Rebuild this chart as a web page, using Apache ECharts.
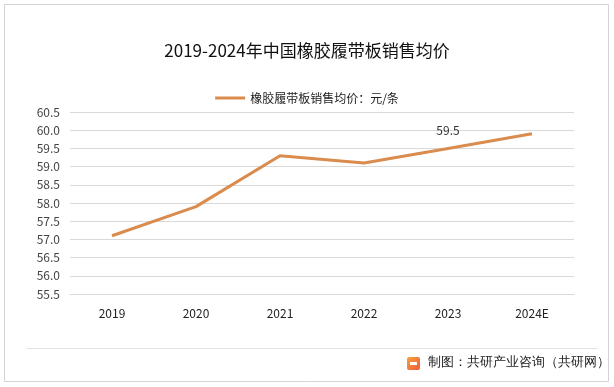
<!DOCTYPE html>
<html><head><meta charset="utf-8">
<script src="https://cdn.jsdelivr.net/npm/echarts@6/dist/echarts.min.js"></script>
<style>html,body{margin:0;padding:0;background:#fff}#c{width:614px;height:387px}</style>
</head><body><div id="c"></div>
<script>
const categories = ['2019','2020','2021','2022','2023','2024E'];
const prices = [57.1, 57.9, 59.3, 59.1, 59.5, 59.9];
const labelledIndex = 4;
const yTicks = {min: 55.5, max: 60.5, interval: 0.5};
const seriesName = '橡胶履带板销售均价：元/条';
const titleText = '2019-2024年中国橡胶履带板销售均价';
const footerText = '制图：共研产业咨询（共研网）';

const font = '"Microsoft YaHei","Noto Sans CJK SC","Noto Sans",sans-serif';
const chart = echarts.init(document.getElementById('c'), null, {renderer:'canvas'});
chart.setOption({
  animation:false,
  backgroundColor:'#fff',
  title:{text:titleText,left:'center',top:37,textStyle:{fontSize:17,fontWeight:'normal',color:'#111',fontFamily:font}},
  legend:{top:87,left:'center',itemWidth:30,itemHeight:3,icon:'rect',itemGap:10,
    textStyle:{fontSize:12,color:'#222',fontFamily:font},data:[seriesName]},
  grid:{left:70,right:40,top:112,bottom:93,containLabel:false},
  xAxis:{type:'category',data:categories,boundaryGap:true,
    axisLine:{show:true,lineStyle:{color:'#d9d9d9'}},axisTick:{show:false},
    axisLabel:{color:'#222',fontSize:12,margin:13,fontFamily:font}},
  yAxis:{type:'value',min:yTicks.min,max:yTicks.max,interval:yTicks.interval,
    axisLine:{show:false},axisTick:{show:false},
    splitLine:{lineStyle:{color:'#d9d9d9',width:1}},
    axisLabel:{color:'#444',fontSize:12,margin:10,fontFamily:font,formatter:v=>v.toFixed(1)}},
  series:[{name:seriesName,type:'line',
    data:prices.map((v,i)=>i===labelledIndex?{value:v,label:{show:true}}:v),
    symbol:'circle',symbolSize:0,showSymbol:true,
    lineStyle:{color:'#D98C4E',width:3},itemStyle:{color:'#D98C4E'},
    label:{show:false,position:'top',distance:12,color:'#333',fontSize:12,fontFamily:font,
      formatter:p=>Number(p.value).toFixed(1)}}],
  graphic:[
    {type:'rect',shape:{x:4.5,y:4.5,width:604,height:377},style:{fill:'none',stroke:'#d4d4d4',lineWidth:1},silent:true},
    {type:'line',shape:{x1:26,y1:348.5,x2:598,y2:348.5},style:{stroke:'#e3e3e3',lineWidth:1},silent:true},
    {type:'rect',shape:{x:407,y:357,width:13,height:13,r:2},style:{fill:new echarts.graphic.LinearGradient(0,0,1,1,[{offset:0,color:'#F7A33A'},{offset:1,color:'#EE5A3C'}])},silent:true},
    {type:'rect',shape:{x:410,y:362,width:7,height:3},style:{fill:'#fff'},silent:true},
    {type:'text',left:428,top:356,style:{text:footerText,fontSize:13,fill:'#222',font:'13px '+font},silent:true}
  ]
});
</script></body></html>
